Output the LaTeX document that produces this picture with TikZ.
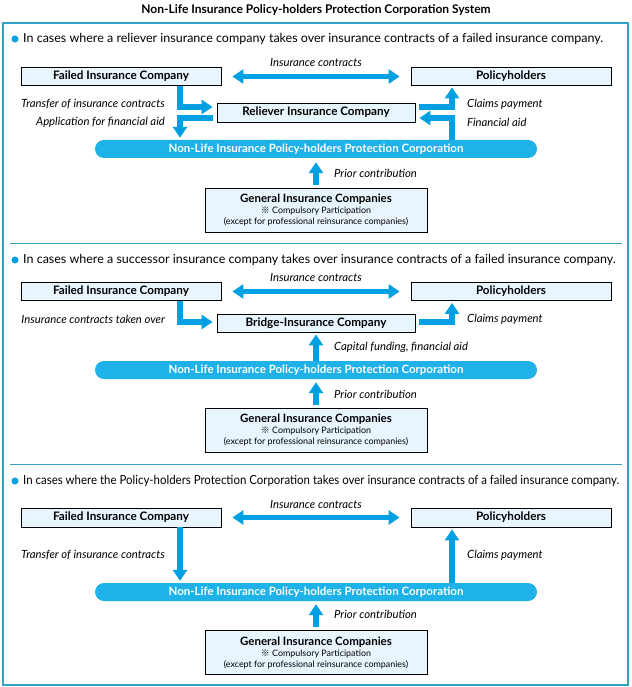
\documentclass[tikz,border=0pt]{standalone}
\usepackage{graphicx}
\usepackage{fontspec}
\setmainfont{Lato}
\newfontfamily\cjk{Noto Sans CJK JP}
\usetikzlibrary{arrows.meta,calc}
\definecolor{arrblue}{RGB}{0,160,226}
\definecolor{pillblue}{RGB}{30,178,232}
\definecolor{boxfill}{RGB}{232,245,252}
\definecolor{framecol}{RGB}{50,162,195}
\begin{document}
\begin{tikzpicture}[x=1pt,y=-1pt,
  box/.style={draw=black, line width=0.8pt, fill=boxfill, minimum width=200pt, minimum height=18pt, inner sep=0pt, font=\bfseries\fontsize{11.7}{13}\selectfont},
  pill/.style={fill=pillblue, rounded corners=9pt, minimum width=442pt, minimum height=18pt, inner sep=0pt, text=white, font=\bfseries\fontsize{11.5}{13}\selectfont},
  genbox/.style={box, minimum width=222pt, minimum height=44pt, align=center, font=\fontsize{8.9}{11}\selectfont},
  arr/.style={draw=arrblue, line width=5.5pt, -{Triangle[width=14pt,length=11pt]}},
  darr/.style={draw=arrblue, line width=5.5pt, {Triangle[width=14pt,length=11pt]}-{Triangle[width=14pt,length=11pt]}},
  lab/.style={inner sep=0pt, font=\itshape\fontsize{11.3}{13}\selectfont},
  head/.style={inner sep=0pt, anchor=west, font=\fontsize{12.5}{14}\selectfont},
  bul/.style={circle, fill=arrblue, inner sep=0pt, minimum size=7pt},
  sepline/.style={draw=framecol, line width=1pt}
]
\useasboundingbox (0,0) rectangle (631,687);
\node[inner sep=0pt, font=\bfseries\fontsize{12}{14}\selectfont] (title) at (316,10) {Non-Life Insurance Policy-holders Protection Corporation System};
\draw[framecol, line width=1.3pt] (3,23) rectangle (628,685);
\draw[sepline] (10,243) -- (622,243);
\draw[sepline] (10,464) -- (622,464);

% ---------- Section 1 ----------
\node[bul] (b1) at (15,39) {};
\node[head] (h1) at (23,39) {In cases where a reliever insurance company takes over insurance contracts of a failed insurance company.};
\node[box] (fail1) at (121,76.5) {Failed Insurance Company};
\node[box] (pol1) at (511,76.5) {Policyholders};
\node[box, minimum width=198pt, minimum height=19pt] (rel1) at (316,112.5) {Reliever Insurance Company};
\node[pill] (pill1) at (316,149) {Non-Life Insurance Policy-holders Protection Corporation};
\node[genbox] (gen1) at (316,210) {{\bfseries\fontsize{11.5}{13}\selectfont General Insurance Companies}\\{\cjk ※} Compulsory Participation\\(except for professional reinsurance companies)};
\draw[darr] ([xshift=11pt]fail1.east) -- ([xshift=-11pt]pol1.west);
\node[lab] (l1a) at (316,62) {Insurance contracts};
\draw[arr] ([xshift=59pt]fail1.south) |- ([xshift=-4pt,yshift=5.5pt]rel1.west);
\draw[arr] ([xshift=-4pt,yshift=-5.5pt]rel1.west) -| ([xshift=-136pt,yshift=2pt]pill1.north);
\draw[arr] ([xshift=4pt,yshift=5.5pt]rel1.east) -| ([xshift=-59pt,yshift=-1.5pt]pol1.south);
\draw[arr] ([xshift=136pt]pill1.north) |- ([xshift=4pt,yshift=-5.5pt]rel1.east);
\draw[arr] ([yshift=3pt]gen1.north) -- ([yshift=-4pt]pill1.south);
\node[lab, anchor=east] (l1b) at (165,104) {Transfer of insurance contracts};
\node[lab, anchor=east] (l1c) at (165,122) {Application for financial aid};
\node[lab, anchor=west] (l1d) at (467,104) {Claims payment};
\node[lab, anchor=west] (l1e) at (467,122) {Financial aid};
\node[lab, anchor=west] (l1f) at (334,173) {Prior contribution};

% ---------- Section 2 ----------
\node[bul] (b2) at (15,260) {};
\node[head] (h2) at (23,260) {In cases where a successor insurance company takes over insurance contracts of a failed insurance company.};
\node[box] (fail2) at (121,291.5) {Failed Insurance Company};
\node[box] (pol2) at (511,291.5) {Policyholders};
\node[box, minimum width=198pt] (br2) at (316,323) {Bridge-Insurance Company};
\node[pill] (pill2) at (316,370) {Non-Life Insurance Policy-holders Protection Corporation};
\node[genbox] (gen2) at (316,430) {{\bfseries\fontsize{11.5}{13}\selectfont General Insurance Companies}\\{\cjk ※} Compulsory Participation\\(except for professional reinsurance companies)};
\draw[darr] ([xshift=11pt]fail2.east) -- ([xshift=-11pt]pol2.west);
\node[lab] (l2a) at (316,277) {Insurance contracts};
\draw[arr] ([xshift=59pt]fail2.south) |- ([xshift=-4pt,yshift=1pt]br2.west);
\draw[arr] ([xshift=4pt,yshift=1pt]br2.east) -| ([xshift=-59pt,yshift=-2pt]pol2.south);
\draw[arr] (pill2.north) -- ([yshift=-2pt]br2.south);
\draw[arr] ([yshift=3pt]gen2.north) -- ([yshift=-3pt]pill2.south);
\node[lab, anchor=east] (l2b) at (165,319) {Insurance contracts taken over};
\node[lab, anchor=west] (l2c) at (467,319) {Claims payment};
\node[lab, anchor=west] (l2d) at (334,347) {Capital funding, financial aid};
\node[lab, anchor=west] (l2e) at (334,394) {Prior contribution};

% ---------- Section 3 ----------
\node[bul] (b3) at (15,481) {};
\node[head] (h3) at (23,481) {\resizebox{596pt}{\height}{In cases where the Policy-holders Protection Corporation takes over insurance contracts of a failed insurance company.}};
\node[box, minimum height=19pt] (fail3) at (121,517.5) {Failed Insurance Company};
\node[box, minimum height=19pt] (pol3) at (511,517.5) {Policyholders};
\node[pill] (pill3) at (316,592) {Non-Life Insurance Policy-holders Protection Corporation};
\node[genbox] (gen3) at (316,652.5) {{\bfseries\fontsize{11.5}{13}\selectfont General Insurance Companies}\\{\cjk ※} Compulsory Participation\\(except for professional reinsurance companies)};
\draw[darr] ([xshift=11pt]fail3.east) -- ([xshift=-11pt]pol3.west);
\node[lab] (l3a) at (316,504) {Insurance contracts};
\draw[arr] ([xshift=59pt]fail3.south) -- ([xshift=-136pt,yshift=2pt]pill3.north);
\draw[arr] ([xshift=136pt]pill3.north) -- ([xshift=-59pt,yshift=-2pt]pol3.south);
\draw[arr] ([yshift=3pt]gen3.north) -- ([yshift=-3pt]pill3.south);
\node[lab, anchor=east] (l3b) at (165,555) {Transfer of insurance contracts};
\node[lab, anchor=west] (l3c) at (467,555) {Claims payment};
\node[lab, anchor=west] (l3d) at (334,614) {Prior contribution};
\end{tikzpicture}
\end{document}
